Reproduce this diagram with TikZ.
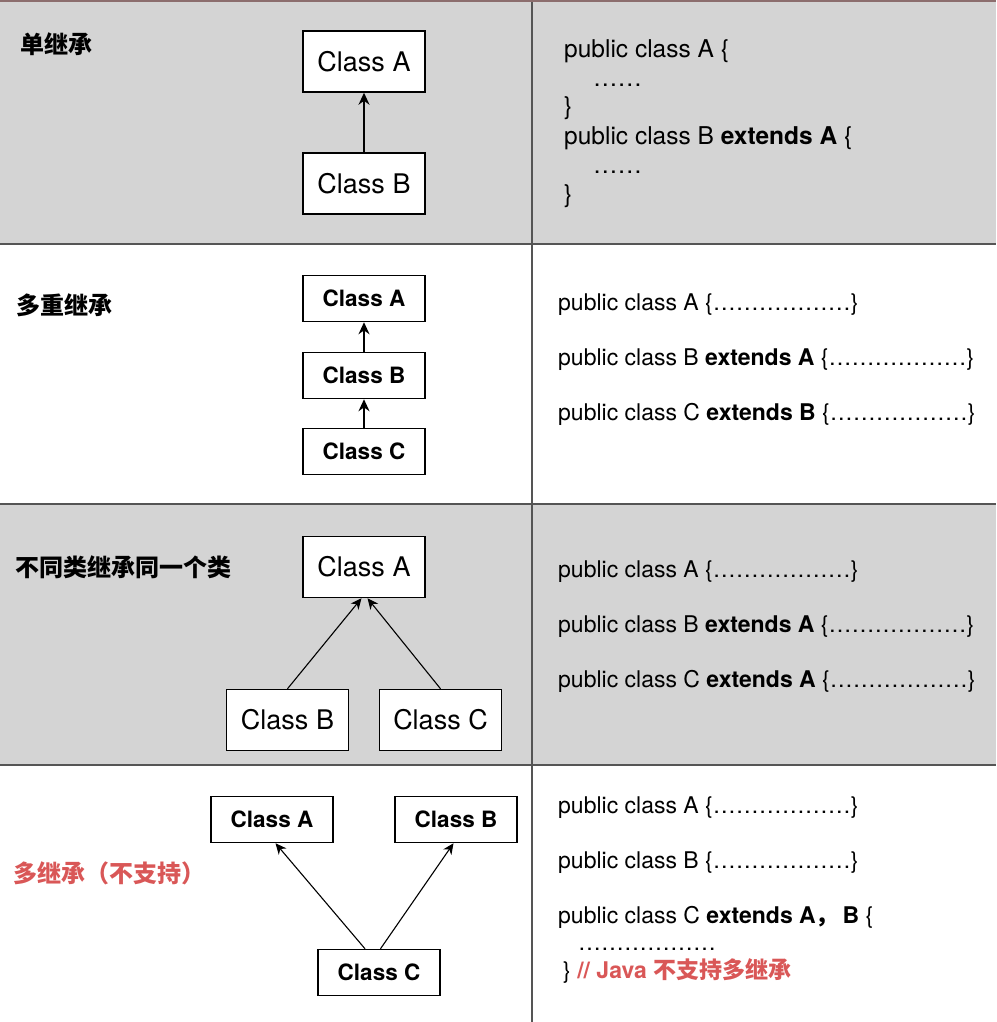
\documentclass[tikz,border=0pt]{standalone}
\usepackage{fontspec}
\setmainfont{TeX Gyre Heros}
\newfontfamily\cjk{Noto Sans CJK SC}
\usetikzlibrary{arrows.meta}
\definecolor{rowgray}{RGB}{212,212,212}
\definecolor{gridline}{RGB}{85,85,85}
\definecolor{warnred}{RGB}{217,87,87}
\tikzset{cls/.style={draw, line width=1.5pt, fill=white, minimum width=122pt,
  minimum height=61pt, inner sep=0pt, font=\fontsize{27}{31}\selectfont}}
\tikzset{clsb/.style={cls, minimum height=46pt, font=\fontsize{22.5}{26}\selectfont\bfseries}}
\tikzset{inh/.style={-{Stealth[length=12pt,width=11pt]}, line width=1.6pt}}
\tikzset{inhthin/.style={-{Stealth[length=11pt,width=10pt]}, line width=1.1pt}}
\tikzset{title/.style={anchor=west, inner sep=0pt, font=\cjk\bfseries\fontsize{24}{28}\selectfont}}
\tikzset{code/.style={anchor=base west, inner sep=0pt, font=\fontsize{23}{27}\selectfont}}
\tikzset{codebig/.style={code, font=\fontsize{24.5}{28}\selectfont}}
\tikzset{grid/.style={draw=gridline, line width=2pt}}

\begin{document}
\begin{tikzpicture}[x=1pt, y=-1pt]
\useasboundingbox (0,0) rectangle (996,1022);

% rows
\fill[rowgray] (0,0) rectangle (996,244);
\fill[rowgray] (0,504) rectangle (996,765);
\draw[grid] (0,244) -- (996,244);
\draw[grid] (0,504) -- (996,504);
\draw[grid] (0,765) -- (996,765);
\draw[grid] (532,0) -- (532,1022);
\draw[draw={rgb,255:red,140;green,110;blue,110}, line width=1.5pt] (0,1) -- (996,1);

% single inheritance
\node[title] (t1) at (20,44) {单继承};
\node[cls] (a1) at (364,61.5) {Class A};
\node[cls] (b1) at (364,183.5) {Class B};
\draw[inh] (b1) -- (a1);
\node[codebig] (c11) at (564,58) {public class A \{};
\node[codebig] (c12) at (593,87) {……};
\node[codebig] (c13) at (564,115) {\}};
\node[codebig] (c14) at (564,145) {public class B \textbf{extends A} \{};
\node[codebig] (c15) at (593,173) {……};
\node[codebig] (c16) at (564,202) {\}};

% multilevel inheritance
\node[title] (t2) at (16,305.5) {多重继承};
\node[clsb] (a2) at (364,298.5) {Class A};
\node[clsb] (b2) at (364,375.5) {Class B};
\node[clsb] (c2) at (364,451.5) {Class C};
\draw[inh] (b2) -- (a2);
\draw[inh] (c2) -- (b2);
\node[code] (c21) at (558,310) {public class A \{………………\}};
\node[code] (c22) at (558,365) {public class B \textbf{extends A} \{………………\}};
\node[code] (c23) at (558,420) {public class C \textbf{extends B} \{………………\}};

% hierarchical inheritance
\node[title] (t3) at (15.5,567) {不同类继承同一个类};
\node[cls] (a3) at (364,567) {Class A};
\node[cls] (b3) at (287.5,720) {Class B};
\node[cls] (c3) at (440.5,720) {Class C};
\draw[inhthin] (b3.north) -- ([xshift=-2.5pt]a3.south);
\draw[inhthin] (c3.north) -- ([xshift=3.5pt]a3.south);
\node[code] (c31) at (558,577) {public class A \{………………\}};
\node[code] (c32) at (558,632) {public class B \textbf{extends A} \{………………\}};
\node[code] (c33) at (558,687) {public class C \textbf{extends A} \{………………\}};

% multiple inheritance
\node[title, text=warnred] (t4) at (13.5,873) {多继承（不支持）};
\node[clsb] (a4) at (272,819.5) {Class A};
\node[clsb] (b4) at (456,819.5) {Class B};
\node[clsb] (c4) at (379,972.5) {Class C};
\draw[inhthin] ([xshift=-14pt]c4.north) -- ([xshift=3.5pt]a4.south);
\draw[inhthin] ([xshift=1.5pt]c4.north) -- ([xshift=-2.5pt]b4.south);
\node[code] (c41) at (558,813) {public class A \{………………\}};
\node[code] (c42) at (558,868) {public class B \{………………\}};
\node[code] (c43) at (558,923) {public class C \textbf{extends A{\cjk ，}\,B} \{};
\node[code] (c44) at (578,950) {………………};
\node[code] (c45) at (563,978) {\} \textcolor{warnred}{\textbf{// Java {\cjk 不支持多继承}}}};

\end{tikzpicture}
\end{document}
